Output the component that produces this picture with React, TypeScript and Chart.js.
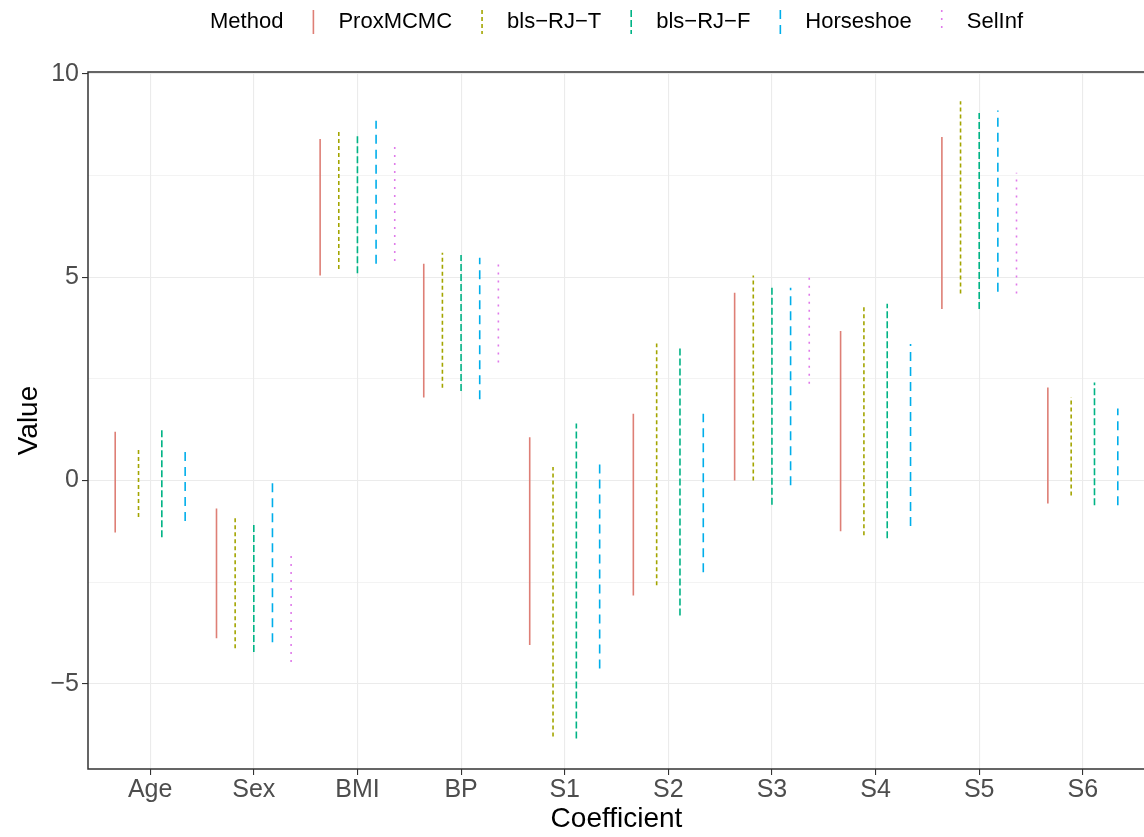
import React, { useEffect, useRef } from 'react';
import { Chart, registerables } from 'chart.js';
Chart.register(...registerables);

const categories = ['Age', 'Sex', 'BMI', 'BP', 'S1', 'S2', 'S3', 'S4', 'S5', 'S6'];
const methods = ['ProxMCMC', 'bls-RJ-T', 'bls-RJ-F', 'Horseshoe', 'SelInf'];

// interval bounds per method (null = no interval for that coefficient)
const proxLower = [-1.28, -3.88, 5.04, 2.04, -4.05, -2.83, 0.0, -1.25, 4.22, -0.57];
const proxUpper = [1.2, -0.69, 8.4, 5.33, 1.06, 1.64, 4.62, 3.68, 8.45, 2.29];
const rjtLower = [-0.9, -4.13, 5.2, 2.28, -6.3, -2.58, 0.0, -1.35, 4.6, -0.37];
const rjtUpper = [0.8, -0.9, 8.65, 5.6, 0.33, 3.37, 5.04, 4.3, 9.33, 2.05];
const rjfLower = [-1.4, -4.22, 5.1, 2.2, -6.35, -3.32, -0.6, -1.42, 4.22, -0.61];
const rjfUpper = [1.3, -1.06, 8.48, 5.55, 1.4, 3.32, 4.74, 4.35, 9.04, 2.41];
const hsLower = [-1.0, -3.98, 5.33, 2.0, -4.63, -2.26, -0.12, -1.12, 4.64, -0.61];
const hsUpper = [0.85, -0.07, 8.85, 5.48, 0.44, 1.64, 4.74, 3.36, 9.1, 1.77];
const siLower = [null, -4.47, 5.4, 2.9, null, null, 2.38, null, 4.6, null];
const siUpper = [null, -1.77, 8.23, 5.45, null, null, 5.1, null, 7.57, null];

const yMajorTicks = [-5, 0, 5, 10];
const yMinorTicks = [-2.5, 2.5, 7.5];

const lowers: (number | null)[][] = [proxLower, rjtLower, rjfLower, hsLower, siLower];
const uppers: (number | null)[][] = [proxUpper, rjtUpper, rjfUpper, hsUpper, siUpper];
const colors = ['#DE7F76', '#A3A500', '#00B385', '#00AEEA', '#E07BEA'];
const dashes = [[], [4, 3], [7, 3], [9, 6], [2, 6]];
const FONT = '"Liberation Sans", Arial, Helvetica, sans-serif';
const DODGE = 0.9;

function buildDatasets() {
  const present = categories.map((_, i) => methods.map((_, m) => lowers[m][i] != null && uppers[m][i] != null));
  return methods.map((name, m) => {
    const data: { x: number; y: number | null }[] = [];
    categories.forEach((_, i) => {
      if (!present[i][m]) return;
      const n = present[i].filter(Boolean).length;
      const j = present[i].slice(0, m).filter(Boolean).length;
      const x = i + 1 + (j - (n - 1) / 2) * (DODGE / n);
      data.push({ x, y: lowers[m][i] as number });
      data.push({ x, y: uppers[m][i] as number });
      data.push({ x, y: null });
    });
    return {
      label: name,
      data,
      borderColor: colors[m],
      backgroundColor: colors[m],
      borderWidth: 1.6,
      borderDash: dashes[m],
      borderCapStyle: 'butt' as const,
      pointRadius: 0,
      pointHoverRadius: 0,
      spanGaps: false,
      showLine: true,
      fill: false,
    };
  });
}

const disp = (s: string) => s.replace(/-/g, '\u2212');

const panelPlugin = {
  id: 'panelBorder',
  afterDatasetsDraw(chart: any) {
    const { ctx, chartArea } = chart;
    ctx.save();
    ctx.strokeStyle = '#333333';
    ctx.lineWidth = 1.5;
    ctx.strokeRect(chartArea.left, chartArea.top, chartArea.right - chartArea.left, chartArea.bottom - chartArea.top);
    ctx.restore();
  },
};

const legendPlugin = {
  id: 'ggLegend',
  afterDraw(chart: any) {
    const { ctx, chartArea } = chart;
    ctx.save();
    ctx.font = `22px ${FONT}`;
    ctx.textBaseline = 'middle';
    ctx.textAlign = 'left';
    const title = 'Method';
    const gapAfter = 30;
    const keyToText = 25;
    const tW = ctx.measureText(title).width;
    const widths = methods.map((m) => ctx.measureText(disp(m)).width);
    let total = tW + gapAfter;
    widths.forEach((w, k) => {
      total += keyToText + w + (k < widths.length - 1 ? gapAfter : 0);
    });
    const cx = (chartArea.left + chartArea.right) / 2;
    let x = cx - total / 2;
    const y = 22;
    ctx.fillStyle = '#000000';
    ctx.fillText(title, x, y);
    x += tW + gapAfter;
    methods.forEach((m, k) => {
      ctx.beginPath();
      ctx.strokeStyle = colors[k];
      ctx.lineWidth = 1.6;
      ctx.setLineDash(dashes[k]);
      ctx.moveTo(x, 10);
      ctx.lineTo(x, 34);
      ctx.stroke();
      ctx.setLineDash([]);
      ctx.fillStyle = '#000000';
      ctx.fillText(disp(m), x + keyToText, y);
      x += keyToText + widths[k] + gapAfter;
    });
    ctx.restore();
  },
};

export default function App() {
  const ref = useRef<HTMLCanvasElement | null>(null);
  useEffect(() => {
    if (!ref.current) return;
    const isMajor = (v: number) => yMajorTicks.includes(v);
    const chart = new Chart(ref.current, {
      type: 'line',
      data: { datasets: buildDatasets() as any },
      options: {
        animation: false,
        responsive: false,
        devicePixelRatio: 1,
        layout: { padding: { top: 72, left: 0, right: 5, bottom: 0 } },
        plugins: { legend: { display: false }, tooltip: { enabled: false }, title: { display: false } },
        events: [],
        scales: {
          x: {
            type: 'linear',
            min: 0.4,
            max: categories.length + 0.6,
            afterBuildTicks: (scale: any) => {
              scale.ticks = categories.map((_, i) => ({ value: i + 1 }));
            },
            afterFit: (scale: any) => {
              scale.height = 68;
            },
            ticks: {
              callback: (v: any) => categories[Math.round(Number(v)) - 1] ?? '',
              font: { size: 25, family: FONT },
              color: '#4D4D4D',
              padding: 0,
              maxRotation: 0,
              autoSkip: false,
            },
            grid: {
              color: '#EBEBEB',
              lineWidth: 1.1,
              tickColor: '#333333',
              tickLength: 6,
              tickWidth: 1.1,
            },
            border: { display: false },
            title: {
              display: true,
              text: 'Coefficient',
              font: { size: 28, family: FONT },
              color: '#000000',
              padding: { top: 0, bottom: 1 },
            },
          },
          y: {
            type: 'linear',
            min: -7.1,
            max: 10.05,
            afterBuildTicks: (scale: any) => {
              scale.ticks = [...yMajorTicks, ...yMinorTicks].sort((a, b) => a - b).map((v) => ({ value: v }));
            },
            afterFit: (scale: any) => {
              scale.width = 88;
            },
            ticks: {
              callback: (v: any) => (isMajor(Number(v)) ? disp(String(v)) : ''),
              font: { size: 25, family: FONT },
              color: '#4D4D4D',
              padding: 3,
            },
            grid: {
              color: '#EBEBEB',
              lineWidth: (c: any) => (isMajor(c.tick?.value) ? 1.1 : 0.6),
              tickColor: (c: any) => (isMajor(c.tick?.value) ? '#333333' : 'rgba(0,0,0,0)'),
              tickLength: 6,
              tickWidth: 1.1,
            },
            border: { display: false },
            title: {
              display: true,
              text: 'Value',
              font: { size: 28, family: FONT },
              color: '#000000',
              padding: { top: 12, bottom: 0 },
            },
          },
        },
      },
      plugins: [panelPlugin, legendPlugin],
    });
    return () => chart.destroy();
  }, []);
  return (
    <div style={{ position: 'fixed', left: 0, top: 0, width: 1144, height: 837, overflow: 'hidden', background: '#ffffff' }}>
      <canvas ref={ref} width={1150} height={837} style={{ display: 'block' }} />
    </div>
  );
}
